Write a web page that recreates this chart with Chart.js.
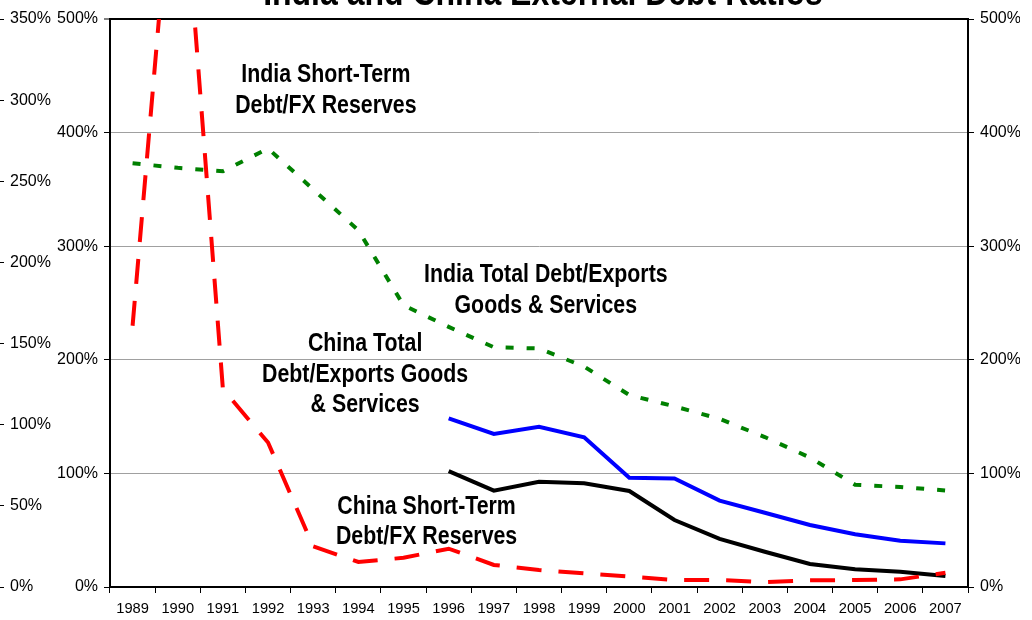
<!DOCTYPE html>
<html>
<head>
<meta charset="utf-8">
<script src="https://cdn.jsdelivr.net/npm/chart.js@4.4.1/dist/chart.umd.min.js"></script>
<style>
  html, body { margin: 0; padding: 0; background: #fff; }
</style>
</head>
<body>
<canvas id="myChart" width="1032" height="620"></canvas>
<script>
// DATA
const years = ['1989', '1990', '1991', '1992', '1993', '1994', '1995', '1996', '1997', '1998',
               '1999', '2000', '2001', '2002', '2003', '2004', '2005', '2006', '2007'];

// red dashed, read against the outer 0-350% axis
const indiaShortTermFx = [161, 485, 122, 89, 25, 15.4, 18, 23.6, 13.6, 10.5,
                          8.4, 6.4, 4.3, 4.3, 3, 4.1, 4.3, 4.7, 8.8];
// green dotted, 0-500% axis
const indiaDebtExports = [373, 369, 366, 386, 350, 314, 248, 229, 211, 210,
                          194, 169, 159, 148, 132, 114, 90, 88, 85];
// blue, 0-500% axis
const chinaDebtExports = [null, null, null, null, null, null, null, 148.5, 134.7, 141,
                          131.8, 96.2, 95.5, 76, 65.4, 54.6, 46.4, 40.8, 38.4];
// black, 0-500% axis
const chinaShortTermFx = [null, null, null, null, null, null, null, 102, 84.8, 92.7,
                          91.3, 84.5, 59, 42.3, 31, 20.2, 15.6, 13.5, 9.7];

const titleText = 'India and China External Debt Ratios';

// text notes: lines, category position, value on the 0-500% axis
const noteLines = [
  ['India Short-Term', 'Debt/FX Reserves'],
  ['India Total Debt/Exports', 'Goods & Services'],
  ['China Total', 'Debt/Exports Goods', '& Services'],
  ['China Short-Term', 'Debt/FX Reserves']
];
const noteX = [4.28, 9.15, 5.15, 6.51];
const noteY = [437, 261, 187, 57.5];

const pct = v => v + '%';

// bold narrow-looking text
function drawNarrow(ctx, text, x, y, size, baseline) {
  ctx.save();
  ctx.translate(x, y);
  ctx.scale(0.82, 1);
  ctx.font = 'bold ' + size + 'px "Liberation Sans", Arial, sans-serif';
  ctx.fillStyle = '#000';
  ctx.textAlign = 'center';
  ctx.textBaseline = baseline;
  ctx.fillText(text, 0, 0);
  ctx.restore();
}

const notesPlugin = {
  id: 'notes',
  afterDraw(chart) {
    const ctx = chart.ctx;
    const area = chart.chartArea;
    drawNarrow(ctx, titleText, (area.left + area.right) / 2 + 4, 5, 39, 'alphabetic');
    const xs = chart.scales.x;
    const ys = chart.scales.yMain;
    noteLines.forEach((lines, i) => {
      const cx = xs.getPixelForValue(noteX[i]);
      const cy = ys.getPixelForValue(noteY[i]);
      const step = 30.5;
      lines.forEach((line, j) => {
        drawNarrow(ctx, line, cx, cy + (j - (lines.length - 1) / 2) * step, 26, 'middle');
      });
    });
  }
};

Chart.defaults.font.family = '"Liberation Sans", Arial, sans-serif';
Chart.defaults.color = '#000';

const ctx = document.getElementById('myChart').getContext('2d');

const myChart = new Chart(ctx, {
  type: 'line',
  data: {
    labels: years,
    datasets: [
      {
        label: 'India Short-Term Debt/FX Reserves',
        data: indiaShortTermFx,
        yAxisID: 'yOuter',
        borderColor: '#ff0000',
        borderWidth: 4,
        borderDash: [25, 17],
        order: 0
      },
      {
        label: 'India Total Debt/Exports Goods & Services',
        data: indiaDebtExports,
        yAxisID: 'yMain',
        borderColor: '#008000',
        borderWidth: 4,
        borderDash: [8, 13],
        order: 1
      },
      {
        label: 'China Total Debt/Exports Goods & Services',
        data: chinaDebtExports,
        yAxisID: 'yMain',
        borderColor: '#0000ff',
        borderWidth: 4,
        order: 2
      },
      {
        label: 'China Short-Term Debt/FX Reserves',
        data: chinaShortTermFx,
        yAxisID: 'yMain',
        borderColor: '#000000',
        borderWidth: 4,
        order: 3
      }
    ]
  },
  options: {
    responsive: false,
    animation: false,
    layout: { padding: { top: 19, right: 12, bottom: 0, left: 0 } },
    elements: {
      point: { radius: 0, hoverRadius: 0 },
      line: { tension: 0, fill: false, borderCapStyle: 'butt', borderJoinStyle: 'miter' }
    },
    datasets: { line: { clip: 0, spanGaps: false } },
    plugins: {
      legend: { display: false },
      tooltip: { enabled: false },
      title: { display: false }
    },
    scales: {
      x: {
        offset: true,
        grid: { offset: true, drawOnChartArea: false, tickLength: 6, tickColor: '#000', color: '#000' },
        border: { color: '#000', width: 2 },
        ticks: { font: { size: 14.7 }, padding: 7, maxRotation: 0, autoSkip: false },
        afterFit: s => { s.height = 33; }
      },
      yOuter: {
        position: 'left',
        weight: 10,
        min: 0,
        max: 350,
        ticks: { stepSize: 50, mirror: true, padding: 6, font: { size: 16 }, callback: pct },
        grid: { drawOnChartArea: false, tickLength: 4, tickColor: '#000', tickWidth: 1 },
        border: { display: false },
        afterFit: s => { s.width = 4; }
      },
      yMain: {
        position: 'left',
        weight: 0,
        min: 0,
        max: 500,
        ticks: { stepSize: 100, padding: 6, font: { size: 16 }, callback: pct },
        grid: {
          color: c => (c.tick && c.tick.value === 500 ? '#000' : '#a0a0a0'),
          lineWidth: c => (c.tick && c.tick.value === 500 ? 2 : 1),
          tickLength: 6,
          tickColor: '#000',
          tickWidth: 1
        },
        border: { color: '#000', width: 2 },
        afterFit: s => { s.width = 106; }
      },
      yRight: {
        position: 'right',
        min: 0,
        max: 500,
        ticks: { stepSize: 100, padding: 6, font: { size: 16 }, callback: pct },
        grid: { drawOnChartArea: false, tickLength: 6, tickColor: '#000', tickWidth: 1 },
        border: { color: '#000', width: 2 },
        afterFit: s => { s.width = 52; }
      }
    }
  },
  plugins: [notesPlugin]
});
</script>
</body>
</html>
